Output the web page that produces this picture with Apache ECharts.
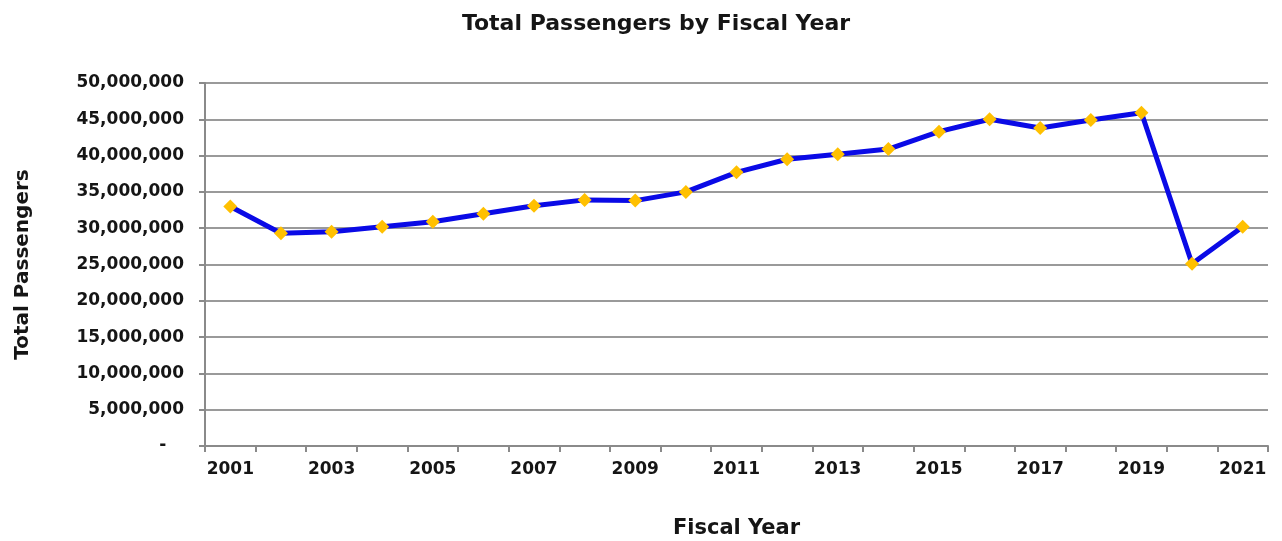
<!DOCTYPE html>
<html>
<head>
<meta charset="utf-8">
<title>Total Passengers by Fiscal Year</title>
<script src="https://cdn.jsdelivr.net/npm/echarts@6/dist/echarts.min.js"></script>
<style>
    html, body { margin: 0; padding: 0; background: #fff; }
    #js-passengers { width: 1282px; height: 541px; }
</style>
</head>
<body>
<div id="js-passengers"></div>
<script>
// fiscal years (x axis)
var years = ["2001", "2002", "2003", "2004", "2005", "2006", "2007", "2008", "2009", "2010", "2011",
    "2012", "2013", "2014", "2015", "2016", "2017", "2018", "2019", "2020", "2021"];
// total passengers per year
var passengers = [33000000, 29300000, 29500000, 30200000, 30900000, 32000000, 33100000, 33900000, 33800000, 35000000,
    37700000, 39500000, 40200000, 40900000, 43300000, 45000000, 43800000, 44900000, 45900000, 25100000, 30200000];
// y axis range
var yMin = 0;
var yMax = 50000000;
var yStep = 5000000;

var chart = {
    init: function () {
        var me = this;
        me.el = document.getElementById('js-passengers');
        me.draw();
    },
    fmt: function (v) {
        if (v === 0) {
            return "-   ";
        }
        return v.toLocaleString("en-US");
    },
    draw: function () {
        var me = this;
        var myChart = echarts.init(me.el);
        var textColor = "#151515";
        var font = "DejaVu Sans";
        var option = {
            animation: false,
            title: {
                text: "Total Passengers by Fiscal Year",
                left: 651,
                textAlign: "center",
                top: 8,
                textStyle: {
                    color: textColor,
                    fontFamily: font,
                    fontWeight: "bold",
                    fontSize: 22
                }
            },
            grid: {
                left: 205,
                right: 14,
                top: 83,
                bottom: 95,
                outerBoundsMode: "none",
                containLabel: false
            },
            xAxis: {
                type: "category",
                data: years,
                boundaryGap: true,
                name: "Fiscal Year",
                nameLocation: "middle",
                nameGap: 72,
                nameTextStyle: {
                    color: textColor,
                    fontFamily: font,
                    fontWeight: "bold",
                    fontSize: 21
                },
                axisLine: {
                    lineStyle: { color: "#8a8a8a", width: 2 }
                },
                axisTick: {
                    show: true,
                    interval: 0,
                    length: 6,
                    lineStyle: { color: "#8a8a8a", width: 2 }
                },
                axisLabel: {
                    interval: 1,
                    margin: 15,
                    color: textColor,
                    fontFamily: font,
                    fontWeight: "bold",
                    fontSize: 17
                },
                splitLine: { show: false }
            },
            yAxis: {
                type: "value",
                min: yMin,
                max: yMax,
                interval: yStep,
                name: "Total Passengers",
                nameLocation: "middle",
                nameRotate: 90,
                nameGap: 172,
                nameTextStyle: {
                    color: textColor,
                    fontFamily: font,
                    fontWeight: "bold",
                    fontSize: 20
                },
                axisLine: {
                    show: true,
                    lineStyle: { color: "#8a8a8a", width: 2 }
                },
                axisTick: {
                    show: true,
                    length: 6,
                    lineStyle: { color: "#8a8a8a", width: 2 }
                },
                axisLabel: {
                    margin: 21,
                    color: textColor,
                    fontFamily: font,
                    fontWeight: "bold",
                    fontSize: 17,
                    formatter: function (v) {
                        return me.fmt(v);
                    }
                },
                splitLine: {
                    lineStyle: { color: "#9a9a9a", width: 2 }
                }
            },
            series: [{
                name: "Total Passengers",
                type: "line",
                data: passengers,
                symbol: "diamond",
                symbolSize: 14,
                showAllSymbol: true,
                lineStyle: { color: "#0a0ae6", width: 5 },
                itemStyle: { color: "#ffc000", borderWidth: 0 },
                z: 3
            }]
        };
        myChart.setOption(option);
    }
};
chart.init();
</script>
</body>
</html>
